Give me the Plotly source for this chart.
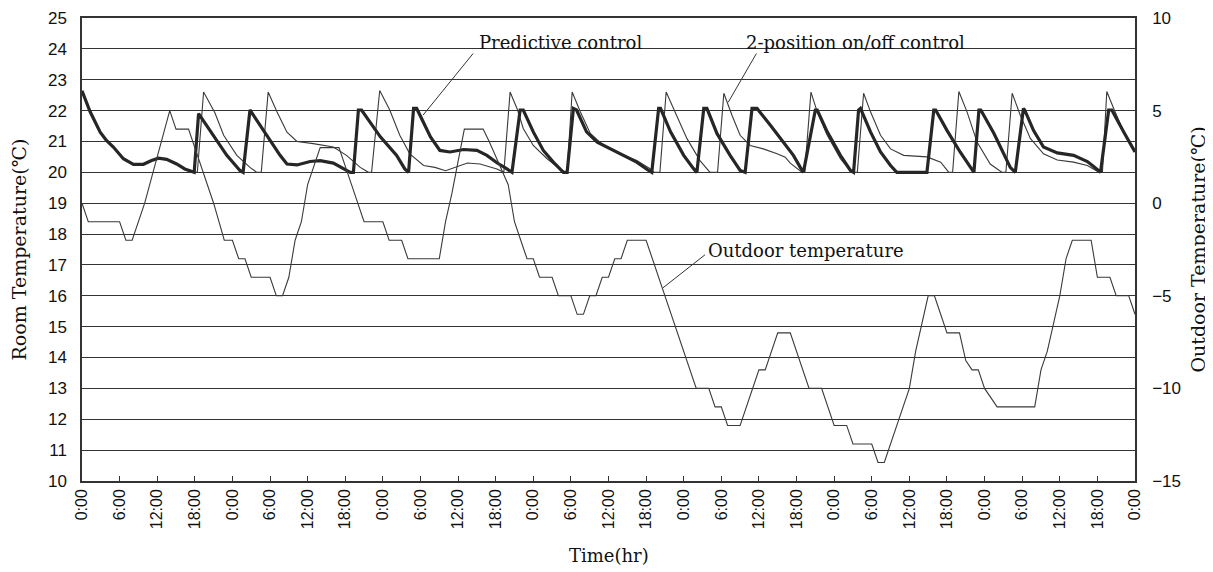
import plotly.graph_objects as go

# ---------------- data ----------------
tick_hours = list(range(0, 169, 6))
tick_labels = ["0:00", "6:00", "12:00", "18:00"] * 7 + ["0:00"]

# Predictive control (thick) – room temperature, left axis
pred_h = [0, 1.3, 2.9, 3.9, 5, 6.6, 8.2, 9.8, 11.1, 12.2, 13.5, 15.1, 16.4, 17.5, 17.9,
          18.6, 21, 23.1, 25.2, 25.7, 26.8, 29.5, 31.6, 32.7, 34.3, 36.4, 38, 40.1, 41.7, 42.8, 43.3,
          44.1, 44.6, 47.6, 50.2, 51.5, 52.1, 52.9, 53.4, 55.6, 57.1, 58.7, 60.9, 63, 64.6, 66.2,
          67.8, 68.6, 69.9, 70.4, 72.0, 73.6, 75.2, 76.8, 77.4, 78.4, 78.9, 80.5, 82.2, 84.3, 86.4,
          88.5, 90.4, 90.9, 92.0, 92.3, 93.9, 96, 97.6, 98.1, 99.2, 99.7, 101.3, 103.4, 105, 105.8,
          106.9, 107.7, 109.8, 111.4, 113.5, 114.6, 115.1, 117, 117.3, 118.9, 121, 122.6, 123.1,
          123.9, 124.2, 125.8, 127.4, 129, 130, 134.8, 135.9, 136.2, 138, 140.1, 141.7, 142.3,
          143.1, 143.4, 145.5, 147.1, 148.1, 148.9, 150.2, 150.4, 151.8, 153.4, 155.6, 158.2,
          160.4, 161.5, 162.5, 163.8, 164.3, 166.2, 168]
pred_t = [22.64, 21.96, 21.3, 21.03, 20.82, 20.44, 20.26, 20.26, 20.38, 20.46, 20.42, 20.27, 20.11, 20.02, 20.0,
          21.9, 21.2, 20.55, 20.06, 20.0, 22.02, 21.2, 20.55, 20.27, 20.24, 20.35, 20.38, 20.3, 20.11, 20.0, 20.0,
          22.02, 22.02, 21.15, 20.55, 20.11, 20.0, 22.07, 22.07, 21.15, 20.71, 20.66, 20.74, 20.71, 20.55, 20.31,
          20.11, 20.0, 22.02, 22.02, 21.31, 20.71, 20.33, 20.0, 20.0, 22.07, 22.02, 21.31, 20.98, 20.76, 20.55,
          20.33, 20.06, 20.0, 22.07, 22.07, 21.31, 20.55, 20.11, 20.0, 22.07, 22.07, 21.26, 20.55, 20.06, 20.0,
          22.07, 22.07, 21.53, 21.1, 20.55, 20.16, 20.0, 22.02, 22.02, 21.31, 20.55, 20.06, 20.0,
          22.02, 22.07, 21.31, 20.66, 20.22, 20.0, 20.0, 22.02, 22.02, 21.36, 20.66, 20.16, 20.0,
          22.02, 22.02, 21.26, 20.6, 20.16, 20.0, 22.07, 22.02, 21.36, 20.82, 20.63, 20.55,
          20.35, 20.17, 20.0, 22.02, 22.02, 21.31, 20.66]

# 2-position on/off control (thin) – room temperature, left axis
onoff_h = [0, 1.3, 2.9, 3.9, 5, 6.6, 8.2, 9.8, 11.1, 12.2, 13.5, 15.1, 16.4, 17.5, 18.4,
           19.4, 21.2, 22.6, 24.7, 26.8, 27.9, 28.6, 29.7, 31.1, 32.7, 34.3, 36.9, 40.1, 42.2, 44.4,
           45.7, 46.2, 47.5, 49.1, 50.7, 52.3, 54.5, 56.3, 58.0, 60.0, 61.5, 63.5, 66.2, 67.3, 68.3,
           69.4, 70.4, 72.0, 74.2, 76.3, 77.1, 77.4, 78.2, 79.5, 81.1, 83.2, 85.9, 88.5, 90.7, 91.3,
           92.2, 93.2, 94.9, 96.5, 98.6, 100.2, 101.4, 102.4, 103.7, 105, 106.6, 108.7, 110.9, 112.2,
           113.0, 114.9, 115.3, 116.3, 117.3, 118.9, 121, 122.3, 122.8, 123.7, 124.7, 125.8, 127.4,
           129, 131.1, 134.8, 137, 138.3, 138.9, 139.9, 141.2, 142.8, 144.9, 146.8, 147.4, 148.4,
           149.7, 151.3, 153.4, 155.6, 158.2, 160.4, 162.3, 162.8, 163.5, 164.6, 166.2, 168]
onoff_t = [22.64, 21.96, 21.3, 21.03, 20.82, 20.44, 20.26, 20.26, 20.38, 20.46, 20.42, 20.27, 20.11, 20.02, 20.0,
           22.6, 21.93, 21.2, 20.55, 20.16, 20.0, 20.0, 22.6, 21.96, 21.3, 21.0, 20.93, 20.82, 20.55, 20.16,
           20.0, 20.0, 22.65, 22.02, 21.2, 20.6, 20.22, 20.16, 20.05, 20.18, 20.3, 20.27, 20.11, 20.0, 22.6,
           22.07, 21.42, 20.87, 20.44, 20.11, 20.0, 20.0, 22.6, 21.96, 21.26, 20.87, 20.6, 20.38, 20.11, 20.0,
           20.0, 22.6, 21.85, 21.1, 20.38, 20.0, 20.0, 22.56, 21.85, 21.2, 20.87, 20.76, 20.6, 20.49,
           20.3, 20.0, 20.0, 22.6, 21.96, 21.2, 20.44, 20.11, 20.0, 20.0, 22.56, 21.96, 21.2,
           20.76, 20.55, 20.5, 20.33, 20.0, 20.0, 22.62, 21.96, 20.98, 20.27, 20.0, 20.0, 22.56,
           21.85, 21.1, 20.6, 20.4, 20.33, 20.22, 20.0, 20.0, 22.62, 22.07, 21.31, 20.71]

# Outdoor temperature (thin) – right axis
out_h = [0, 1, 6, 7, 8, 10, 14, 15, 17, 21, 22.7, 24, 25, 26, 27, 30, 31, 32, 33, 34, 35, 36, 38, 41,
         43, 44, 45, 48, 49, 51, 52, 57, 58, 59, 61, 64, 65, 68, 69, 70, 71, 72, 73, 75, 76, 78, 79, 80,
         81, 82, 83, 84, 85, 86, 87, 90, 91, 98, 100, 101, 102, 103, 105, 106, 107, 108, 109, 111, 113,
         114, 116, 118, 120, 122, 123, 126, 127, 128, 129, 132, 133, 135, 136, 138, 140, 141, 142, 143,
         144, 146, 152, 153, 154, 156, 157, 158, 161, 162, 164, 165, 167, 168]
out_t = [0, -1, -1, -2, -2, 0, 5, 4, 4, 0, -2, -2, -3, -3, -4, -4, -5, -5, -4, -2, -1, 1, 3, 3,
         1, 0, -1, -1, -2, -2, -3, -3, -1, 0.5, 4, 4, 3.3, 1, -1, -2, -3, -3, -4, -4, -5, -5, -6, -6,
         -5, -5, -4, -4, -3, -3, -2, -2, -3, -10, -10, -11, -11, -12, -12, -11, -10, -9, -9, -7, -7,
         -8, -10, -10, -12, -12, -13, -13, -14, -14, -13, -10, -8, -5, -5, -7, -7, -8.5, -9, -9,
         -10, -11, -11, -9, -8, -5, -3, -2, -2, -4, -4, -5, -5, -6]

serif = "DejaVu Serif"
sans = "Liberation Sans"
ink = "#333333"
txt = "#111111"

# The page body adds an 8px offset, so the figure is drawn 8px smaller
# and the plot area lands at x 82-1135, y 18-481 in the window.
W, H = 1205, 564

fig = go.Figure()
fig.add_trace(go.Scatter(x=out_h, y=out_t, yaxis="y2", mode="lines",
                         line=dict(color="#3a3a3a", width=1.1), name="Outdoor temperature"))
fig.add_trace(go.Scatter(x=onoff_h, y=onoff_t, mode="lines",
                         line=dict(color="#3a3a3a", width=1.1), name="2-position on/off control"))
fig.add_trace(go.Scatter(x=pred_h, y=pred_t, mode="lines",
                         line=dict(color="#262626", width=3.2), name="Predictive control"))

# pointer lines + labels
pointers = [
    dict(tip=(54.4, 21.85), tail=(62.4, 23.85), text="Predictive control", pos=(63.0, 24.22)),
    dict(tip=(103.1, 22.27), tail=(107.6, 23.85), text="2-position on/off control", pos=(105.6, 24.22)),
    dict(tip=(92.7, 16.26), tail=(99.4, 17.33), text="Outdoor temperature", pos=(99.6, 17.46)),
]
for p in pointers:
    fig.add_shape(type="line", xref="x", yref="y", x0=p["tip"][0], y0=p["tip"][1],
                  x1=p["tail"][0], y1=p["tail"][1], line=dict(color=ink, width=1))
    fig.add_annotation(x=p["pos"][0], y=p["pos"][1], xref="x", yref="y", text=p["text"],
                       showarrow=False, xanchor="left", yanchor="middle",
                       font=dict(family=serif, size=18, color=txt))

# axis titles placed relative to the plot area
title_font = dict(family=serif, size=19, color=txt)
fig.add_annotation(x=0, y=0.5, xref="x domain", yref="y domain", xshift=-64, text="Room Temperature(℃)",
                   showarrow=False, textangle=-90, font=title_font, xanchor="center", yanchor="middle")
fig.add_annotation(x=1, y=0.5, xref="x domain", yref="y domain", xshift=62, text="Outdoor Temperature(℃)",
                   showarrow=False, textangle=-90, font=title_font, xanchor="center", yanchor="middle")
fig.add_annotation(x=0.5, y=0, xref="x domain", yref="y domain", yshift=-74, text="Time(hr)",
                   showarrow=False, font=dict(family=serif, size=18, color=txt),
                   xanchor="center", yanchor="middle")

fig.update_layout(
    width=W, height=H,
    margin=dict(l=74, r=78, t=10, b=91),
    paper_bgcolor="white", plot_bgcolor="white",
    showlegend=False,
    xaxis=dict(range=[0, 168], tickvals=tick_hours, ticktext=tick_labels, tickangle=-90,
               ticks="inside", ticklen=5, tickcolor=ink, tickwidth=1, automargin=False,
               showline=True, linecolor=ink, linewidth=1.5, mirror=True, showgrid=False, zeroline=False,
               tickfont=dict(family=sans, size=16, color=txt)),
    yaxis=dict(range=[10, 25], dtick=1, tick0=10, showgrid=True, gridcolor=ink, gridwidth=1.2,
               showline=True, linecolor=ink, linewidth=1.5, zeroline=False, ticks="", automargin=False,
               tickfont=dict(family=sans, size=17, color=txt), ticklabelstandoff=10),
    yaxis2=dict(range=[-15, 10], tickvals=[-15, -10, -5, 0, 5, 10], overlaying="y", side="right",
                showgrid=False, showline=True, linecolor=ink, linewidth=1.5, zeroline=False, ticks="",
                automargin=False, tickfont=dict(family=sans, size=17, color=txt), ticklabelstandoff=12),
)

fig.write_html("out.html")
